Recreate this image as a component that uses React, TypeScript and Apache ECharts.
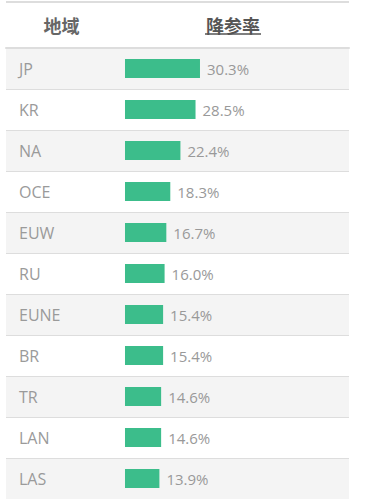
import React, { useEffect, useRef } from "react";
import * as echarts from "echarts";

const regions = ["JP", "KR", "NA", "OCE", "EUW", "RU", "EUNE", "BR", "TR", "LAN", "LAS"];
const surrenderRates = [30.3, 28.5, 22.4, 18.3, 16.7, 16.0, 15.4, 15.4, 14.6, 14.6, 13.9];
const headerRegion = "地域";
const headerRate = "降参率";

export default function App() {
  const ref = useRef<HTMLDivElement>(null);
  useEffect(() => {
    if (!ref.current) return;
    const chart = echarts.init(ref.current, null, { renderer: "svg" });
    chart.setOption({
      animation: false,
      backgroundColor: "#ffffff",
      textStyle: { fontFamily: "Open Sans" },
      grid: { left: 6, right: 28, top: 48, height: 451, containLabel: false },
      xAxis: {
        type: "value",
        position: "top",
        min: -48.08,
        max: 90.51,
        axisLine: { show: true, onZero: false, lineStyle: { color: "#dddddd", width: 2 } },
        axisTick: { show: false },
        axisLabel: { show: false },
        splitLine: { show: false },
      },
      yAxis: {
        type: "category",
        inverse: true,
        data: regions,
        axisLine: { show: false },
        axisTick: { show: false },
        axisLabel: {
          align: "left",
          margin: -13,
          color: "#9a9a9a",
          fontSize: 16,
          fontFamily: "Open Sans",
        },
        splitLine: { show: true, lineStyle: { color: "#dddddd", width: 1 } },
        splitArea: { show: true, areaStyle: { color: ["#f4f4f4", "#ffffff"] } },
      },
      series: [
        {
          type: "bar",
          data: surrenderRates,
          barWidth: 19,
          itemStyle: { color: "#3cbd8b" },
          label: {
            show: true,
            position: "right",
            distance: 7,
            color: "#999999",
            fontSize: 15,
            fontFamily: "Open Sans",
            formatter: (p: any) => `${Number(p.value).toFixed(1)}%`,
          },
        },
      ],
      graphic: [
        { type: "rect", shape: { x: 6, y: 1, width: 343, height: 2 }, style: { fill: "#dddddd" } },
        {
          type: "text",
          x: 61.5,
          y: 25,
          style: {
            text: headerRegion,
            fill: "#666666",
            fontSize: 18,
            fontWeight: "bold",
            fontFamily: "Noto Sans CJK JP",
            align: "center",
            verticalAlign: "middle",
          },
        },
        {
          type: "text",
          x: 233,
          y: 25,
          style: {
            text: headerRate,
            fill: "#555555",
            fontSize: 18,
            fontWeight: "bold",
            fontFamily: "Noto Sans CJK JP",
            align: "center",
            verticalAlign: "middle",
          },
        },
        {
          type: "line",
          shape: { x1: 205, y1: 34, x2: 261, y2: 34 },
          style: { stroke: "#555555", lineWidth: 1.5 },
        },
      ],
    });
    return () => chart.dispose();
  }, []);
  return (
    <div
      ref={ref}
      style={{ position: "fixed", left: 0, top: 0, width: 377, height: 499 }}
    />
  );
}
